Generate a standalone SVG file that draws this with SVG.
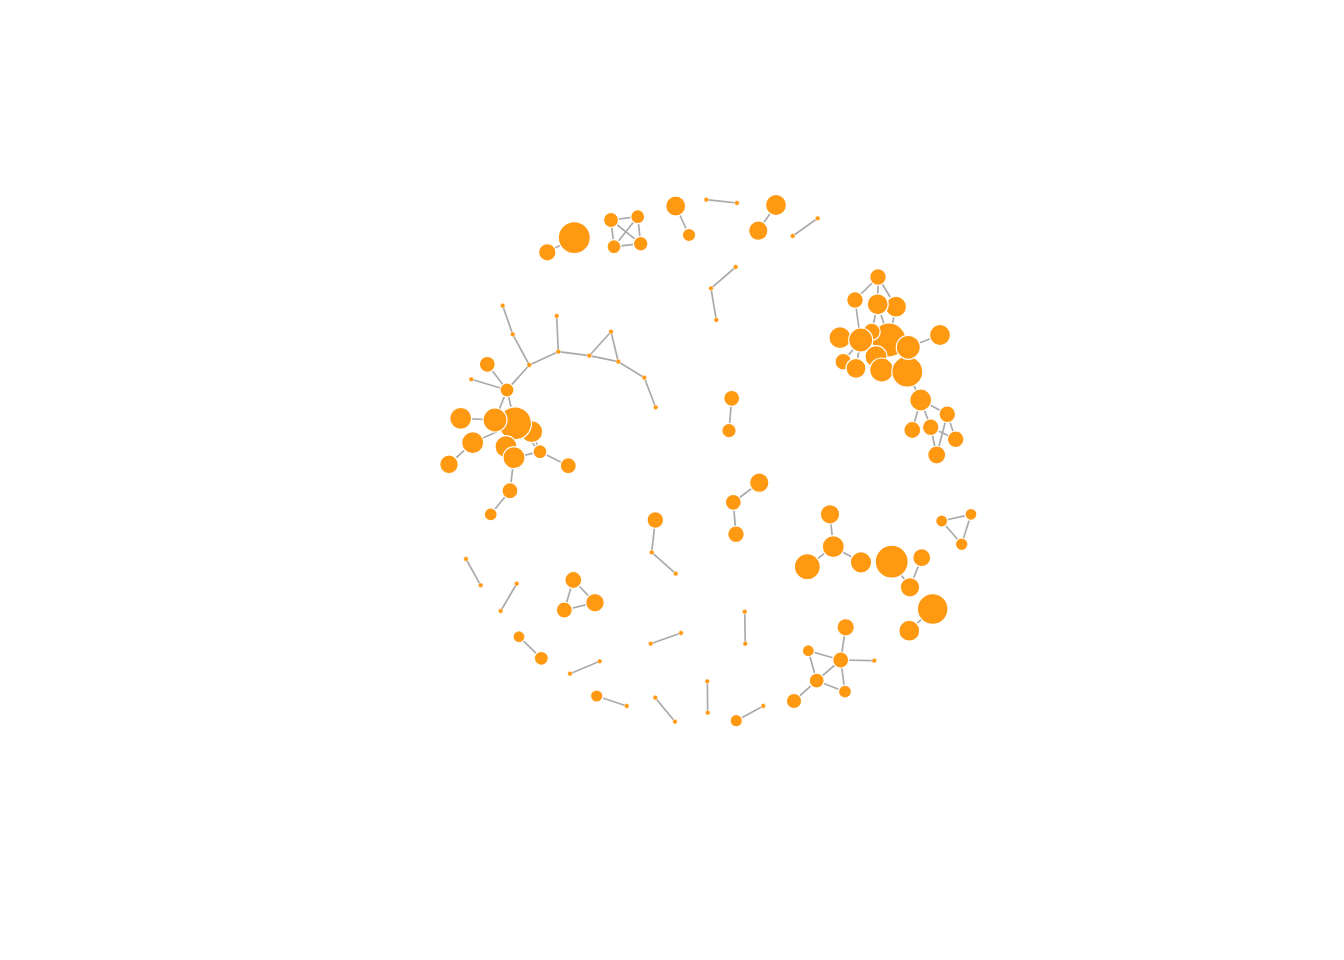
<svg xmlns="http://www.w3.org/2000/svg" width="1344" height="960" viewBox="0 0 1344 960">
<style>
.e{stroke:#aaaaaa;stroke-width:1.7;fill:none}
.n{fill:#ff9912;stroke:#ffffff;stroke-width:1.2}
.s{fill:#ff9912;stroke:#ffffff;stroke-width:0.5}
</style>
<rect width="1344" height="960" fill="#ffffff"/>
<g id="edges">
<line class="e" x1="878" y1="277" x2="855" y2="300"/>
<line class="e" x1="878" y1="277" x2="877.7" y2="304.3"/>
<line class="e" x1="878" y1="277" x2="896" y2="306.7"/>
<line class="e" x1="855" y1="300" x2="860.7" y2="340"/>
<line class="e" x1="877.7" y1="304.3" x2="871.7" y2="331.7"/>
<line class="e" x1="877.7" y1="304.3" x2="889" y2="340"/>
<line class="e" x1="896" y1="306.7" x2="889" y2="340"/>
<line class="e" x1="840" y1="337.7" x2="860.7" y2="340"/>
<line class="e" x1="860.7" y1="340" x2="889" y2="340"/>
<line class="e" x1="889" y1="340" x2="908.3" y2="347.3"/>
<line class="e" x1="908.3" y1="347.3" x2="940" y2="335"/>
<line class="e" x1="843.3" y1="361.7" x2="860.7" y2="340"/>
<line class="e" x1="856" y1="368.3" x2="860.7" y2="340"/>
<line class="e" x1="876" y1="356.7" x2="889" y2="340"/>
<line class="e" x1="881.7" y1="370" x2="889" y2="340"/>
<line class="e" x1="907.3" y1="371.7" x2="908.3" y2="347.3"/>
<line class="e" x1="907.3" y1="371.7" x2="920.7" y2="400"/>
<line class="e" x1="920.7" y1="400" x2="912.3" y2="430"/>
<line class="e" x1="920.7" y1="400" x2="930.7" y2="427.3"/>
<line class="e" x1="920.7" y1="400" x2="947.3" y2="414.3"/>
<line class="e" x1="947.3" y1="414.3" x2="955.7" y2="439.3"/>
<line class="e" x1="930.7" y1="427.3" x2="936.7" y2="455"/>
<line class="e" x1="947.3" y1="414.3" x2="936.7" y2="455"/>
<line class="e" x1="930.7" y1="427.3" x2="955.7" y2="439.3"/>
<line class="e" x1="502.7" y1="305.7" x2="512.7" y2="334.3"/>
<line class="e" x1="512.7" y1="334.3" x2="529.3" y2="365"/>
<line class="e" x1="529.3" y1="365" x2="558.3" y2="351.7"/>
<line class="e" x1="556.7" y1="316" x2="558.3" y2="351.7"/>
<line class="e" x1="558.3" y1="351.7" x2="589.3" y2="355.7"/>
<line class="e" x1="589.3" y1="355.7" x2="611" y2="331.7"/>
<line class="e" x1="611" y1="331.7" x2="618.3" y2="361.7"/>
<line class="e" x1="589.3" y1="355.7" x2="618.3" y2="361.7"/>
<line class="e" x1="618.3" y1="361.7" x2="644.3" y2="377.7"/>
<line class="e" x1="644.3" y1="377.7" x2="655.7" y2="407.3"/>
<line class="e" x1="529.3" y1="365" x2="507" y2="390"/>
<line class="e" x1="487.3" y1="364.3" x2="507" y2="390"/>
<line class="e" x1="471.3" y1="379.3" x2="507" y2="390"/>
<line class="e" x1="507" y1="390" x2="495" y2="420"/>
<line class="e" x1="507" y1="390" x2="515" y2="423.3"/>
<line class="e" x1="460.7" y1="418.3" x2="495" y2="420"/>
<line class="e" x1="472.7" y1="442.7" x2="515" y2="423.3"/>
<line class="e" x1="449" y1="464.3" x2="472.7" y2="442.7"/>
<line class="e" x1="515" y1="423.3" x2="531.7" y2="431.7"/>
<line class="e" x1="515" y1="423.3" x2="506" y2="446.7"/>
<line class="e" x1="506" y1="446.7" x2="514" y2="457.7"/>
<line class="e" x1="514" y1="457.7" x2="540" y2="451.7"/>
<line class="e" x1="531.7" y1="431.7" x2="540" y2="451.7"/>
<line class="e" x1="515" y1="423.3" x2="540" y2="451.7"/>
<line class="e" x1="540" y1="451.7" x2="568.3" y2="465.7"/>
<line class="e" x1="514" y1="457.7" x2="510" y2="490.7"/>
<line class="e" x1="510" y1="490.7" x2="490.7" y2="514.3"/>
<line class="e" x1="547.3" y1="252.3" x2="574.3" y2="237.7"/>
<line class="e" x1="611" y1="220" x2="637.7" y2="216.7"/>
<line class="e" x1="611" y1="220" x2="614" y2="246.7"/>
<line class="e" x1="637.7" y1="216.7" x2="640.7" y2="243.7"/>
<line class="e" x1="614" y1="246.7" x2="640.7" y2="243.7"/>
<line class="e" x1="611" y1="220" x2="640.7" y2="243.7"/>
<line class="e" x1="637.7" y1="216.7" x2="614" y2="246.7"/>
<line class="e" x1="675.7" y1="206" x2="689" y2="235"/>
<line class="e" x1="706.3" y1="199.7" x2="737" y2="203"/>
<line class="e" x1="776" y1="205" x2="758.3" y2="230.7"/>
<line class="e" x1="792.7" y1="236" x2="817.7" y2="218.3"/>
<line class="e" x1="735.7" y1="267" x2="711" y2="288.3"/>
<line class="e" x1="711" y1="288.3" x2="716.3" y2="320"/>
<line class="e" x1="731.7" y1="398.3" x2="729" y2="430.7"/>
<line class="e" x1="759.3" y1="482.7" x2="733.3" y2="502.3"/>
<line class="e" x1="733.3" y1="502.3" x2="736" y2="534.3"/>
<line class="e" x1="655.3" y1="520" x2="651.7" y2="552.3"/>
<line class="e" x1="651.7" y1="552.3" x2="675.7" y2="573.7"/>
<line class="e" x1="830" y1="514.3" x2="833.3" y2="546.7"/>
<line class="e" x1="833.3" y1="546.7" x2="807.3" y2="566.7"/>
<line class="e" x1="833.3" y1="546.7" x2="861" y2="562.3"/>
<line class="e" x1="891.7" y1="561.7" x2="910" y2="587.3"/>
<line class="e" x1="921.7" y1="557.7" x2="910" y2="587.3"/>
<line class="e" x1="932.7" y1="609" x2="909.3" y2="630.7"/>
<line class="e" x1="941.7" y1="521" x2="971" y2="514.3"/>
<line class="e" x1="971" y1="514.3" x2="961.7" y2="544.3"/>
<line class="e" x1="941.7" y1="521" x2="961.7" y2="544.3"/>
<line class="e" x1="845.7" y1="627.3" x2="840.7" y2="660"/>
<line class="e" x1="808.3" y1="650.7" x2="840.7" y2="660"/>
<line class="e" x1="808.3" y1="650.7" x2="816.7" y2="680.7"/>
<line class="e" x1="816.7" y1="680.7" x2="840.7" y2="660"/>
<line class="e" x1="816.7" y1="680.7" x2="845" y2="691.7"/>
<line class="e" x1="840.7" y1="660" x2="845" y2="691.7"/>
<line class="e" x1="816.7" y1="680.7" x2="794" y2="701"/>
<line class="e" x1="840.7" y1="660" x2="874.3" y2="660.7"/>
<line class="e" x1="466" y1="559" x2="480.7" y2="585.3"/>
<line class="e" x1="516.7" y1="583.7" x2="500.7" y2="611"/>
<line class="e" x1="573.3" y1="580" x2="595" y2="602.7"/>
<line class="e" x1="573.3" y1="580" x2="564.3" y2="610"/>
<line class="e" x1="564.3" y1="610" x2="595" y2="602.7"/>
<line class="e" x1="519" y1="636.7" x2="541.3" y2="658.3"/>
<line class="e" x1="570" y1="673.7" x2="599.7" y2="661.3"/>
<line class="e" x1="596.7" y1="696" x2="626.7" y2="706"/>
<line class="e" x1="655.3" y1="697.7" x2="675" y2="721.7"/>
<line class="e" x1="707.3" y1="681.3" x2="707.7" y2="712.7"/>
<line class="e" x1="736.3" y1="720.7" x2="763.3" y2="706"/>
<line class="e" x1="650.7" y1="643.7" x2="681" y2="633"/>
<line class="e" x1="744.7" y1="611.7" x2="745.3" y2="643.7"/>
</g>
<g id="nodes">
<g id="tr1"><circle class="n" cx="878" cy="277" r="8.3"/></g>
<g id="tr2"><circle class="n" cx="855" cy="300" r="8.3"/></g>
<g id="tr4"><circle class="n" cx="896" cy="306.7" r="10.5"/></g>
<g id="tr3"><circle class="n" cx="877.7" cy="304.3" r="10.5"/></g>
<g id="tr5"><circle class="n" cx="889" cy="340" r="17"/></g>
<g id="tr6"><circle class="n" cx="871.7" cy="331.7" r="8.5"/></g>
<g id="tr7"><circle class="n" cx="840" cy="337.7" r="11"/></g>
<g id="tr8"><circle class="n" cx="860.7" cy="340" r="12"/></g>
<g id="tr10"><circle class="n" cx="940" cy="335" r="10.5"/></g>
<g id="tr11"><circle class="n" cx="843.3" cy="361.7" r="8.3"/></g>
<g id="tr13"><circle class="n" cx="876" cy="356.7" r="11"/></g>
<g id="tr12"><circle class="n" cx="856" cy="368.3" r="10"/></g>
<g id="tr14"><circle class="n" cx="881.7" cy="370" r="12"/></g>
<g id="tr15"><circle class="n" cx="907.3" cy="371.7" r="15.5"/></g>
<g id="tr9"><circle class="n" cx="908.3" cy="347.3" r="12"/></g>
<g id="tr16"><circle class="n" cx="920.7" cy="400" r="11"/></g>
<g id="tr17"><circle class="n" cx="912.3" cy="430" r="8.5"/></g>
<g id="tr18"><circle class="n" cx="930.7" cy="427.3" r="8.3"/></g>
<g id="tr19"><circle class="n" cx="947.3" cy="414.3" r="8.3"/></g>
<g id="tr20"><circle class="n" cx="955.7" cy="439.3" r="8.3"/></g>
<g id="tr21"><circle class="n" cx="936.7" cy="455" r="9"/></g>
<g id="l1"><circle class="s" cx="502.7" cy="305.7" r="2.4"/></g>
<g id="l2"><circle class="s" cx="512.7" cy="334.3" r="2.4"/></g>
<g id="l3"><circle class="s" cx="529.3" cy="365" r="2.4"/></g>
<g id="l4"><circle class="s" cx="556.7" cy="316" r="2.4"/></g>
<g id="l5"><circle class="s" cx="558.3" cy="351.7" r="2.4"/></g>
<g id="l6"><circle class="s" cx="589.3" cy="355.7" r="2.4"/></g>
<g id="l7"><circle class="s" cx="611" cy="331.7" r="2.4"/></g>
<g id="l8"><circle class="s" cx="618.3" cy="361.7" r="2.4"/></g>
<g id="l9"><circle class="s" cx="644.3" cy="377.7" r="2.4"/></g>
<g id="l10"><circle class="s" cx="655.7" cy="407.3" r="2.4"/></g>
<g id="l11"><circle class="s" cx="471.3" cy="379.3" r="2.4"/></g>
<g id="l12"><circle class="n" cx="507" cy="390" r="7"/></g>
<g id="l13"><circle class="n" cx="487.3" cy="364.3" r="8"/></g>
<g id="l14"><circle class="n" cx="460.7" cy="418.3" r="11"/></g>
<g id="l17"><circle class="n" cx="531.7" cy="431.7" r="11"/></g>
<g id="l16"><circle class="n" cx="515" cy="423.3" r="16.5"/></g>
<g id="l15"><circle class="n" cx="495" cy="420" r="12"/></g>
<g id="l18"><circle class="n" cx="472.7" cy="442.7" r="11"/></g>
<g id="l19"><circle class="n" cx="506" cy="446.7" r="11"/></g>
<g id="l21"><circle class="n" cx="540" cy="451.7" r="7"/></g>
<g id="l20"><circle class="n" cx="514" cy="457.7" r="11"/></g>
<g id="l22"><circle class="n" cx="568.3" cy="465.7" r="8"/></g>
<g id="l23"><circle class="n" cx="449" cy="464.3" r="9.3"/></g>
<g id="l24"><circle class="n" cx="510" cy="490.7" r="8"/></g>
<g id="l25"><circle class="n" cx="490.7" cy="514.3" r="6.5"/></g>
<g id="t1"><circle class="n" cx="547.3" cy="252.3" r="8.7"/></g>
<g id="t2"><circle class="n" cx="574.3" cy="237.7" r="16"/></g>
<g id="t3"><circle class="n" cx="611" cy="220" r="7.5"/></g>
<g id="t4"><circle class="n" cx="637.7" cy="216.7" r="7"/></g>
<g id="t5"><circle class="n" cx="614" cy="246.7" r="7"/></g>
<g id="t6"><circle class="n" cx="640.7" cy="243.7" r="7.3"/></g>
<g id="t7"><circle class="n" cx="675.7" cy="206" r="10"/></g>
<g id="t8"><circle class="n" cx="689" cy="235" r="6.7"/></g>
<g id="t9"><circle class="s" cx="706.3" cy="199.7" r="2.4"/></g>
<g id="t10"><circle class="s" cx="737" cy="203" r="2.4"/></g>
<g id="t11"><circle class="n" cx="776" cy="205" r="10.5"/></g>
<g id="t12"><circle class="n" cx="758.3" cy="230.7" r="9.7"/></g>
<g id="t13"><circle class="s" cx="792.7" cy="236" r="2.4"/></g>
<g id="t14"><circle class="s" cx="817.7" cy="218.3" r="2.4"/></g>
<g id="t15"><circle class="s" cx="735.7" cy="267" r="2.4"/></g>
<g id="t16"><circle class="s" cx="711" cy="288.3" r="2.4"/></g>
<g id="t17"><circle class="s" cx="716.3" cy="320" r="2.4"/></g>
<g id="m1"><circle class="n" cx="731.7" cy="398.3" r="8"/></g>
<g id="m2"><circle class="n" cx="729" cy="430.7" r="7.2"/></g>
<g id="m3"><circle class="n" cx="759.3" cy="482.7" r="9.7"/></g>
<g id="m4"><circle class="n" cx="733.3" cy="502.3" r="8"/></g>
<g id="m5"><circle class="n" cx="736" cy="534.3" r="8.3"/></g>
<g id="m6"><circle class="n" cx="655.3" cy="520" r="8.3"/></g>
<g id="m7"><circle class="s" cx="651.7" cy="552.3" r="2.4"/></g>
<g id="m8"><circle class="s" cx="675.7" cy="573.7" r="2.4"/></g>
<g id="br1"><circle class="n" cx="830" cy="514.3" r="9.7"/></g>
<g id="br2"><circle class="n" cx="833.3" cy="546.7" r="11"/></g>
<g id="br3"><circle class="n" cx="807.3" cy="566.7" r="13"/></g>
<g id="br4"><circle class="n" cx="861" cy="562.3" r="10.7"/></g>
<g id="br5"><circle class="n" cx="891.7" cy="561.7" r="16.5"/></g>
<g id="br6"><circle class="n" cx="921.7" cy="557.7" r="9"/></g>
<g id="br7"><circle class="n" cx="910" cy="587.3" r="9.7"/></g>
<g id="br8"><circle class="n" cx="932.7" cy="609" r="15.3"/></g>
<g id="br9"><circle class="n" cx="909.3" cy="630.7" r="10.5"/></g>
<g id="br10"><circle class="n" cx="941.7" cy="521" r="6"/></g>
<g id="br11"><circle class="n" cx="971" cy="514.3" r="6"/></g>
<g id="br12"><circle class="n" cx="961.7" cy="544.3" r="6.3"/></g>
<g id="br13"><circle class="n" cx="845.7" cy="627.3" r="8.7"/></g>
<g id="br14"><circle class="n" cx="840.7" cy="660" r="8"/></g>
<g id="br15"><circle class="n" cx="808.3" cy="650.7" r="6"/></g>
<g id="br16"><circle class="n" cx="816.7" cy="680.7" r="7.5"/></g>
<g id="br17"><circle class="n" cx="845" cy="691.7" r="6.5"/></g>
<g id="br18"><circle class="n" cx="794" cy="701" r="7.7"/></g>
<g id="br19"><circle class="s" cx="874.3" cy="660.7" r="2.4"/></g>
<g id="bl1"><circle class="s" cx="466" cy="559" r="2.4"/></g>
<g id="bl2"><circle class="s" cx="480.7" cy="585.3" r="2.4"/></g>
<g id="bl3"><circle class="s" cx="516.7" cy="583.7" r="2.4"/></g>
<g id="bl4"><circle class="s" cx="500.7" cy="611" r="2.4"/></g>
<g id="bl5"><circle class="n" cx="573.3" cy="580" r="8.5"/></g>
<g id="bl6"><circle class="n" cx="595" cy="602.7" r="9.3"/></g>
<g id="bl7"><circle class="n" cx="564.3" cy="610" r="8"/></g>
<g id="bl8"><circle class="n" cx="519" cy="636.7" r="6"/></g>
<g id="bl9"><circle class="n" cx="541.3" cy="658.3" r="7"/></g>
<g id="bl10"><circle class="s" cx="570" cy="673.7" r="2.4"/></g>
<g id="bl11"><circle class="s" cx="599.7" cy="661.3" r="2.4"/></g>
<g id="bl12"><circle class="n" cx="596.7" cy="696" r="6.2"/></g>
<g id="bl13"><circle class="s" cx="626.7" cy="706" r="2.4"/></g>
<g id="bl14"><circle class="s" cx="655.3" cy="697.7" r="2.4"/></g>
<g id="bl15"><circle class="s" cx="675" cy="721.7" r="2.4"/></g>
<g id="bl16"><circle class="s" cx="707.3" cy="681.3" r="2.4"/></g>
<g id="bl17"><circle class="s" cx="707.7" cy="712.7" r="2.4"/></g>
<g id="bl18"><circle class="n" cx="736.3" cy="720.7" r="6.2"/></g>
<g id="bl19"><circle class="s" cx="763.3" cy="706" r="2.4"/></g>
<g id="bl20"><circle class="s" cx="650.7" cy="643.7" r="2.4"/></g>
<g id="bl21"><circle class="s" cx="681" cy="633" r="2.4"/></g>
<g id="bl22"><circle class="s" cx="744.7" cy="611.7" r="2.4"/></g>
<g id="bl23"><circle class="s" cx="745.3" cy="643.7" r="2.4"/></g>
</g>
</svg>
